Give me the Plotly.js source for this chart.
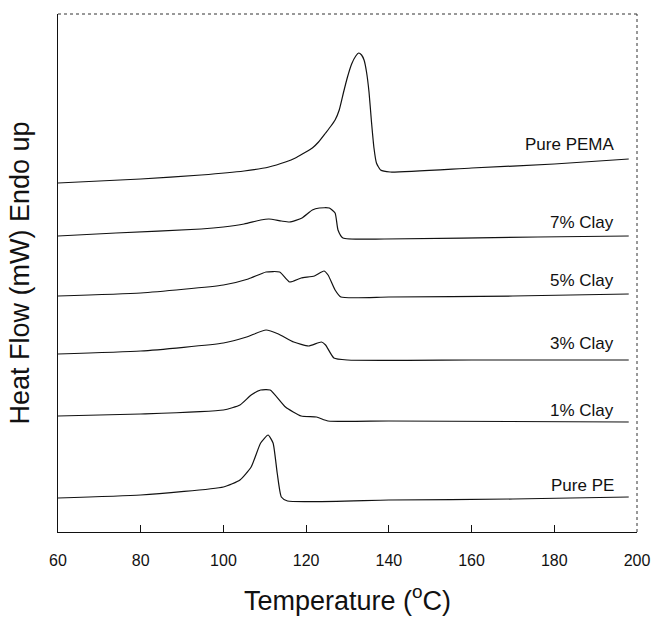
<!DOCTYPE html>
<html><head><meta charset="utf-8">
<script src="https://cdn.plot.ly/plotly-3.0.1.min.js"></script>
<style>body{margin:0;background:#fff}#c{width:652px;height:618px}</style>
</head><body><div id="c"></div>
<script>
// Temperature (°C) and heat flow (arbitrary units, curves offset as in the figure)
const pemaT = [60,80,94.6,105,111,115,117.4,119.5,121.5,123,124.7,126,127,128,129,130,131,132,132.7,133.4,134,134.6,135.2,135.8,136.4,137,138,140.3,160,180,198];
const pemaH = [370,374,378,382,386,391,395,400,405,411,420,427,433,443,460,476,489,497,500,498,493,481,461,431,405,390,383,381,385,389,394];
const clay7T = [60,74,94.6,100,105,109,111,114,116,119,121.5,123.2,125.6,127,127.7,128.9,139,176,198];
const clay7H = [317,320,324,326,329,333,334,332,331,335,343,345,345,340,323,315,314,316,317];
const clay5T = [60,80,100,106,110.3,113.6,116,118.8,122,124.3,125.3,127,128.4,140,170,198];
const clay5H = [257,260,268,274,281,281,271,275,277,282,278,263,256,256,257,259];
const clay3T = [60,80,100,105.6,110.3,113.3,117,120.6,123.7,124.7,126.7,130,160,198];
const clay3H = [199,202,210,216,223,219,211,207,211,208,195,193,193,193];
const clay1T = [60,80,100,104,106.7,109,111.3,115,118.8,122.5,125.3,140,198];
const clay1H = [137,139,143,148,158,163,163,146,137,136,132,132,131];
const peT = [60,80,100,104,106.7,109,110.8,112,113,114,115.5,140,170,198];
const peH = [55,58,66,73,86,110,118,110,80,56,52,53,54,56];
const seriesNames = ["Pure PEMA","7% Clay","5% Clay","3% Clay","1% Clay","Pure PE"];
const labelH = [409,331,273,210,143,68];
const xTicks = [60,80,100,120,140,160,180,200];

const FONT = 'Liberation Sans, Arial, Helvetica, sans-serif';
const Ts = [pemaT,clay7T,clay5T,clay3T,clay1T,peT];
const Hs = [pemaH,clay7H,clay5H,clay3H,clay1H,peH];
const traces = Ts.map((t,i)=>({x:t,y:Hs[i],type:'scatter',mode:'lines',name:seriesNames[i],
  line:{color:'#111',width:1.2,shape:'spline',smoothing:0.5},hoverinfo:'skip'}));
const annotations = seriesNames.map((n,i)=>({x:195,y:labelH[i],xref:'x',yref:'y',text:n,showarrow:false,
  xanchor:'right',yanchor:'middle',font:{family:FONT,size:17,color:'#111'}}));
const frame = [
  {type:'line',xref:'paper',yref:'paper',x0:0,x1:1,y0:1,y1:1,line:{color:'#333',width:1,dash:'dot'}},
  {type:'line',xref:'paper',yref:'paper',x0:1,x1:1,y0:0,y1:1,line:{color:'#333',width:1,dash:'dot'}}
];
const layout = {
  width:652,height:618,showlegend:false,paper_bgcolor:'#fff',plot_bgcolor:'#fff',
  margin:{l:58,r:15,t:14,b:86},
  font:{family:FONT,color:'#111'},
  xaxis:{range:[60,200],tickvals:xTicks,ticktext:xTicks.map(String),ticks:'inside',ticklen:7,tickcolor:'#111',
    ticklabelstandoff:14,showline:true,linecolor:'#111',linewidth:1,mirror:false,showgrid:false,zeroline:false,
    tickfont:{size:16},title:{text:'Temperature (<sup>o</sup>C)',font:{size:27},standoff:22}},
  yaxis:{range:[21,539],showticklabels:false,ticks:'',showline:true,linecolor:'#111',linewidth:1,mirror:false,
    showgrid:false,zeroline:false,title:{text:'Heat Flow (mW) Endo up',font:{size:27},standoff:19}},
  shapes:frame,
  annotations:annotations
};
Plotly.newPlot('c',traces,layout,{staticPlot:true});
</script></body></html>
